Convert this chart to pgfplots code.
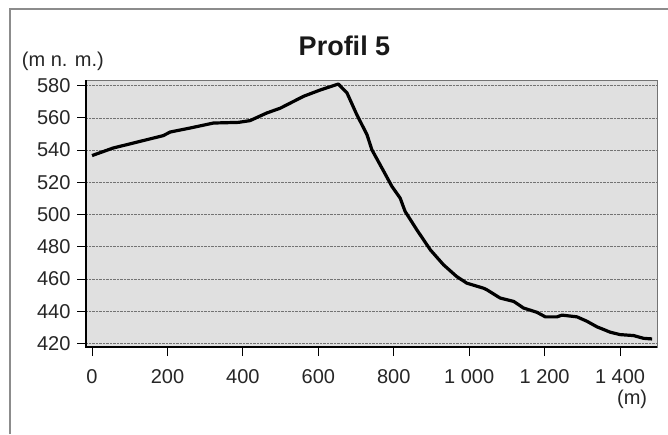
\documentclass[border=0pt]{standalone}
\usepackage{pgfplots}
\pgfplotsset{compat=1.18}
\usepackage{fontspec}
\setmainfont{Liberation Sans}
\begin{document}
\begin{tikzpicture}[x=1pt,y=1pt]
\useasboundingbox (0,0) rectangle (668,-434);
\fill[white] (0,0) rectangle (668,-434);
\draw[black!45, line width=1.2pt] (10,-434) -- (10,-9) -- (668,-9);
\begin{axis}[
  at={(86pt,-347pt)}, anchor=south west,
  width=571pt, height=267pt, scale only axis,
  xmin=-16, xmax=1498, ymin=417.8, ymax=583.5,
  axis background/.style={fill=black!12},
  axis line style={black!55, line width=0.8pt},
  xtick={0,200,400,600,800,1000,1200,1400},
  xticklabels={0,200,400,600,800,1 000,1 200,1 400},
  ytick={420,440,...,580},
  /pgf/number format/assume math mode=true,
  tick align=outside, xtick pos=lower, ytick pos=left,
  major tick length=9pt,
  tick style={black, line width=1pt},
  ymajorgrids, grid style={densely dotted, black!55, line width=0.6pt},
  ticklabel style={font=\fontsize{20}{24}\selectfont, text=black!85},
  xticklabel style={yshift=-10pt},
  yticklabel style={xshift=-3pt},
  clip=false,
]
\addplot[black, line width=3.2pt, line join=round] coordinates {
(0,536.6) (56,541.3) (110,544.4) (189,549) (207,551.2) (260,553.7)
(322,556.8) (388,557.2) (419,558.3) (463,563) (499,566) (561,573.4)
(605,577.3) (653,581) (676,575.5) (702,562) (729,549.6) (742,540.2)
(773,527) (795,517.5) (817,510.2) (830,502) (861,490.6) (897,478.1)
(932,468.8) (967,461.5) (994,457.4) (1038,454.3) (1047,453.3)
(1082,448.2) (1118,446.1) (1144,442) (1180,439.3) (1202,436.5)
(1233,436.5) (1246,437.6) (1286,436.5) (1312,433.8) (1339,430.3)
(1374,427) (1400,425.5) (1436,424.9) (1462,423.2) (1485,422.8)
};
\draw[black, line width=1.5pt] (rel axis cs:0,1) -- (rel axis cs:0,0) -- (rel axis cs:1,0);
\end{axis}
\node[anchor=base, text=black!90] at (344.5,-55) {\fontsize{27}{32}\selectfont\bfseries Profil 5};
\node[anchor=base west, inner sep=0pt, text=black!85] at (21.7,-66) {\fontsize{20}{24}\selectfont (m n. m.)};
\node[anchor=base east, inner sep=0pt, text=black!85] at (647.3,-404) {\fontsize{20}{24}\selectfont (m)};
\end{tikzpicture}
\end{document}
